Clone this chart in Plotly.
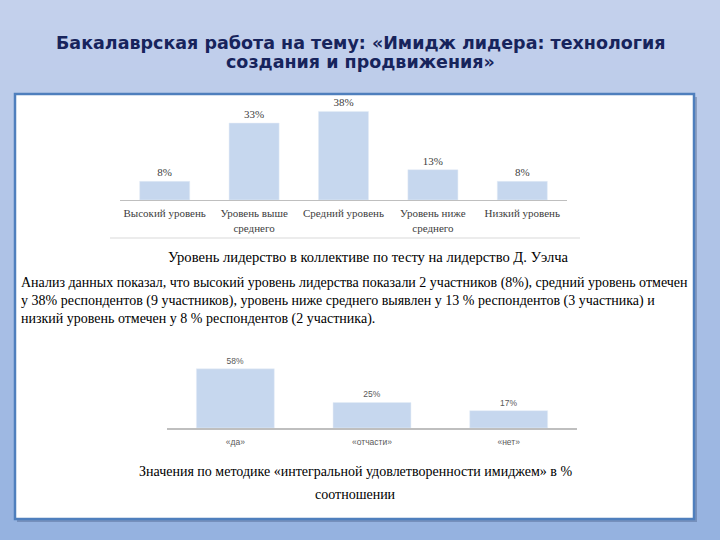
import plotly.graph_objects as go

# ---- data ----
cats1 = ["Высокий уровень", "Уровень выше<br>среднего", "Средний уровень", "Уровень ниже<br>среднего", "Низкий уровень"]
vals1 = [8, 33, 38, 13, 8]
cats2 = ["«да»", "«отчасти»", "«нет»"]
vals2 = [58, 25, 17]

title_line1 = "Бакалаврская работа на тему: «Имидж лидера: технология"
title_line2 = "создания и продвижения»"
caption1 = "Уровень лидерство в коллективе по тесту на лидерство Д. Уэлча"
paragraph = ("Анализ данных показал, что высокий уровень лидерства показали 2 участников (8%), средний уровень отмечен<br>"
             "у 38% респондентов (9 участников), уровень ниже среднего выявлен у 13 % респондентов (3 участника) и<br>"
             "низкий уровень отмечен у 8 % респондентов (2 участника).")
caption2a = "Значения по методике «интегральной удовлетворенности имиджем» в %"
caption2b = "соотношении"

W, H = 720, 540
BAR = "#c6d7ee"
SERIF = "Liberation Serif, Times New Roman, serif"
SANS = "Liberation Sans, Arial, sans-serif"
TITLE_FONT = "DejaVu Sans, Verdana, sans-serif"

def px(x):
    return x / W

def py(y):
    return 1 - y / H

fig = go.Figure()
fig.add_trace(go.Bar(x=cats1, y=vals1, xaxis="x", yaxis="y", marker_color=BAR, width=0.56,
                     text=[f"{v}%" for v in vals1], textposition="outside", cliponaxis=False,
                     textfont=dict(family=SERIF, size=11, color="#404040"), hoverinfo="skip"))
fig.add_trace(go.Bar(x=cats2, y=vals2, xaxis="x2", yaxis="y2", marker_color=BAR, width=0.57,
                     text=[f"{v}%" for v in vals2], textposition="outside", cliponaxis=False,
                     textfont=dict(family=SANS, size=8.5, color="#595959"), hoverinfo="skip"))

# background gradient strips
shapes = []
top = (0xc4, 0xd1, 0xec)
bot = (0x95, 0xb2, 0xe0)
n = 54
for i in range(n):
    t = i / (n - 1)
    c = tuple(round(top[k] + (bot[k] - top[k]) * t) for k in range(3))
    shapes.append(dict(type="rect", xref="paper", yref="paper", layer="below",
                       x0=0, x1=1, y0=py((i + 1) * 10 + 1), y1=py(i * 10),
                       fillcolor="rgb(%d,%d,%d)" % c, line_width=0))
# panel shadow
shapes.append(dict(type="rect", xref="paper", yref="paper", layer="below",
                   x0=px(17), x1=px(697), y0=py(522), y1=py(97),
                   fillcolor="rgba(60,80,120,0.35)", line_width=0))
# white panel
shapes.append(dict(type="rect", xref="paper", yref="paper", layer="below",
                   x0=px(15), x1=px(694), y0=py(519), y1=py(94),
                   fillcolor="white", line=dict(color="#4f7fbd", width=2.5)))
# separator line under chart 1
shapes.append(dict(type="line", xref="paper", yref="paper", layer="below",
                   x0=px(110), x1=px(580), y0=py(238), y1=py(238),
                   line=dict(color="#d9d9d9", width=1)))

annotations = [
    dict(text="<b>" + title_line1 + "</b>", x=0.5, y=py(43), xref="paper", yref="paper",
         yanchor="middle", showarrow=False, font=dict(family=TITLE_FONT, size=17.5, color="#17245c")),
    dict(text="<b>" + title_line2 + "</b>", x=0.5, y=py(62), xref="paper", yref="paper",
         yanchor="middle", showarrow=False, font=dict(family=TITLE_FONT, size=17.5, color="#17245c")),
    dict(text=caption1, x=px(369), y=py(257), xref="paper", yref="paper", showarrow=False,
         yanchor="middle", font=dict(family=SERIF, size=14.6, color="#000000")),
    dict(text=paragraph, x=px(19), y=py(301), xref="paper", yref="paper", showarrow=False,
         yanchor="middle", xanchor="left", align="left", font=dict(family=SERIF, size=14, color="#000000")),
    dict(text=caption2a, x=px(355), y=py(471), xref="paper", yref="paper", showarrow=False,
         yanchor="middle", font=dict(family=SERIF, size=14, color="#000000")),
    dict(text=caption2b, x=px(355), y=py(494), xref="paper", yref="paper", showarrow=False,
         yanchor="middle", font=dict(family=SERIF, size=14, color="#000000")),
]

fig.update_layout(
    width=W, height=H, margin=dict(l=0, r=0, t=0, b=0),
    paper_bgcolor="#aec3e8", plot_bgcolor="rgba(0,0,0,0)",
    showlegend=False, shapes=shapes, annotations=annotations,
    xaxis=dict(domain=[px(120), px(567)], anchor="y", showline=True, linecolor="#bfbfbf",
               linewidth=1, ticks="", showgrid=False, range=[-0.5, 4.5], ticklabelstandoff=3,
               tickfont=dict(family=SERIF, size=11, color="#404040")),
    yaxis=dict(domain=[py(200), py(100)], anchor="x", range=[0, 42.9], visible=False),
    xaxis2=dict(domain=[px(167), px(577)], anchor="y2", showline=True, linecolor="#bfbfbf",
                linewidth=1.5, ticks="", showgrid=False, range=[-0.5, 2.5], ticklabelstandoff=5,
                tickfont=dict(family=SANS, size=8.5, color="#595959")),
    yaxis2=dict(domain=[py(428), py(358)], anchor="x2", range=[0, 68.6], visible=False),
)

fig.write_html("out.html")
